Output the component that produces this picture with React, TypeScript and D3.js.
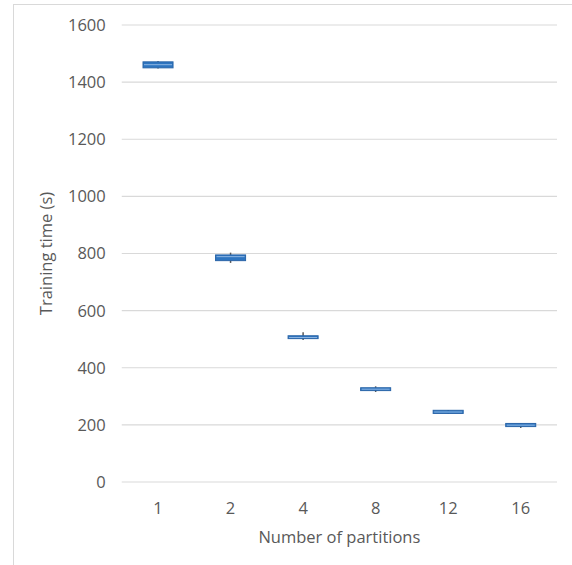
import React from "react";
import * as d3 from "d3";

const categories = ["1", "2", "4", "8", "12", "16"];
const minValues = [1448, 767, 497, 315, 238, 189];
const q1Values = [1450, 775, 502, 320, 240, 194];
const medianValues = [1461, 789, 506, 325, 245, 199];
const q3Values = [1471, 795, 512, 330, 251, 205];
const maxValues = [1474, 803, 524, 335, 252, 206];
const yTicks = [0, 200, 400, 600, 800, 1000, 1200, 1400, 1600];

const W = 572;
const H = 565;
const left = 121.75;
const right = 557;
const top = 25;
const bottom = 482;
const font = "'Open Sans', 'Noto Sans', sans-serif";
const textColor = "#595959";

export default function App() {
  const x = d3.scaleBand<string>().domain(categories).range([left, right]).padding(0);
  const y = d3.scaleLinear().domain([0, 1600]).range([bottom, top]);
  const boxW = x.bandwidth() * 0.414;

  return (
    <svg width={W} height={H} style={{ position: "absolute", left: 0, top: 0 }}>
      <rect x={0} y={0} width={W} height={H} fill="#fff" />
      <rect x={13.5} y={4.5} width={700} height={700} fill="none" stroke="#D9D9D9" strokeWidth={1} />
      {yTicks.map((t) => (
        <g key={t}>
          <line x1={left} x2={right} y1={y(t)} y2={y(t)} stroke="#D9D9D9" strokeWidth={1.2} />
          <text x={left - 16} y={y(t)} dy="0.36em" textAnchor="end" fontFamily={font} fontSize={16.5} fill={textColor}>
            {t}
          </text>
        </g>
      ))}
      {categories.map((c, i) => {
        const cx = (x(c) as number) + x.bandwidth() / 2;
        return (
          <g key={c}>
            <line x1={cx} x2={cx} y1={y(maxValues[i])} y2={y(minValues[i])} stroke="#595959" strokeWidth={1.5} />
            <rect
              x={cx - boxW / 2}
              y={y(q3Values[i])}
              width={boxW}
              height={Math.max(2.5, y(q1Values[i]) - y(q3Values[i]))}
              fill="#2E75C0"
              stroke="#2A65A8"
              strokeWidth={1}
            />
            <line
              x1={cx - boxW / 2 + 1}
              x2={cx + boxW / 2 - 1}
              y1={y(medianValues[i])}
              y2={y(medianValues[i])}
              stroke="#8DB6E3"
              strokeWidth={1}
            />
            <text x={cx} y={508} dy="0.36em" textAnchor="middle" fontFamily={font} fontSize={16.5} fill={textColor}>
              {c}
            </text>
          </g>
        );
      })}
      <text x={(left + right) / 2} y={537} dy="0.36em" textAnchor="middle" fontFamily={font} fontSize={16.5} fill={textColor}>
        Number of partitions
      </text>
      <text
        transform={`translate(46,${(top + bottom) / 2}) rotate(-90)`}
        textAnchor="middle"
        dy="0.36em"
        fontFamily={font}
        fontSize={16.5}
        fill={textColor}
      >
        Training time (s)
      </text>
    </svg>
  );
}
